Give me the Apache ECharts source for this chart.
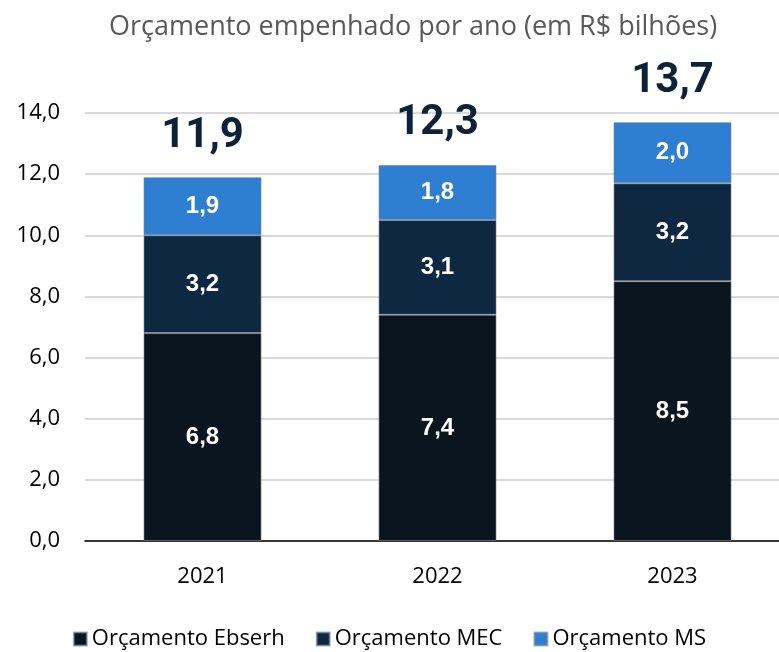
<!DOCTYPE html>
<html><head><meta charset="utf-8">
<script src="https://cdn.jsdelivr.net/npm/echarts@6/dist/echarts.min.js"></script>
<style>html,body{margin:0;padding:0;background:#fff}#c{width:779px;height:652px}</style>
</head><body><div id="c"></div>
<script>
const categories = ['2021', '2022', '2023'];
const ebserh = [6.8, 7.4, 8.5];
const mec = [3.2, 3.1, 3.2];
const ms = [1.9, 1.8, 2.0];
const totals = [11.9, 12.3, 13.7];
const yTicks = [0, 2, 4, 6, 8, 10, 12, 14];

const fmt = v => v.toFixed(1).replace('.', ',');
const chart = echarts.init(document.getElementById('c'));
const inLabel = {show: true, position: 'inside', color: '#fff', fontSize: 24, fontWeight: 'bold', fontFamily: 'Liberation Sans', formatter: p => fmt(p.value)};
const border = {borderColor: 'rgba(120,130,140,0.6)', borderWidth: 1};
chart.setOption({
  animation: false,
  title: {text: 'Orçamento empenhado por ano (em R$ bilhões)', left: 104, top: 9,
    textStyle: {color: '#595959', fontSize: 27, fontWeight: 'normal', fontFamily: 'Open Sans'}},
  legend: {bottom: -3, left: 'center', itemWidth: 13, itemHeight: 13, itemGap: 31, icon: 'rect',
    textStyle: {fontSize: 22, color: '#000', fontFamily: 'Open Sans'},
    data: ['Orçamento Ebserh', 'Orçamento MEC', 'Orçamento MS']},
  grid: {left: 85, width: 705, top: 113, bottom: 111, outerBoundsMode: 'none', containLabel: false},
  xAxis: {type: 'category', data: categories,
    axisLine: {lineStyle: {color: '#000', width: 1.5}}, axisTick: {show: false},
    axisLabel: {fontSize: 22, color: '#000', margin: 25, fontFamily: 'Open Sans'}},
  yAxis: {type: 'value', min: 0, max: 14, interval: 2,
    axisLine: {show: false}, axisTick: {show: false},
    axisLabel: {fontSize: 22, color: '#000', margin: 25, fontFamily: 'Open Sans',
      formatter: v => yTicks.includes(v) ? fmt(v) : ''},
    splitLine: {lineStyle: {color: '#d9d9d9', width: 2}}},
  series: [
    {name: 'Orçamento Ebserh', type: 'bar', stack: 't', data: ebserh, barWidth: 118,
      itemStyle: Object.assign({color: '#0a1520'}, border), label: inLabel},
    {name: 'Orçamento MEC', type: 'bar', stack: 't', data: mec,
      itemStyle: Object.assign({color: '#0f2841'}, border), label: inLabel},
    {name: 'Orçamento MS', type: 'bar', stack: 't', data: ms,
      itemStyle: Object.assign({color: '#2e7fd1'}, border), label: inLabel},
    {name: 'Total', type: 'scatter', data: totals, symbolSize: 0, silent: true,
      itemStyle: {opacity: 1},
      label: {show: true, position: 'top', distance: 20, color: '#0d2137', fontSize: 42,
        fontWeight: 'bold', fontFamily: 'Roboto', formatter: p => fmt(p.value)}}
  ]
});
</script></body></html>
